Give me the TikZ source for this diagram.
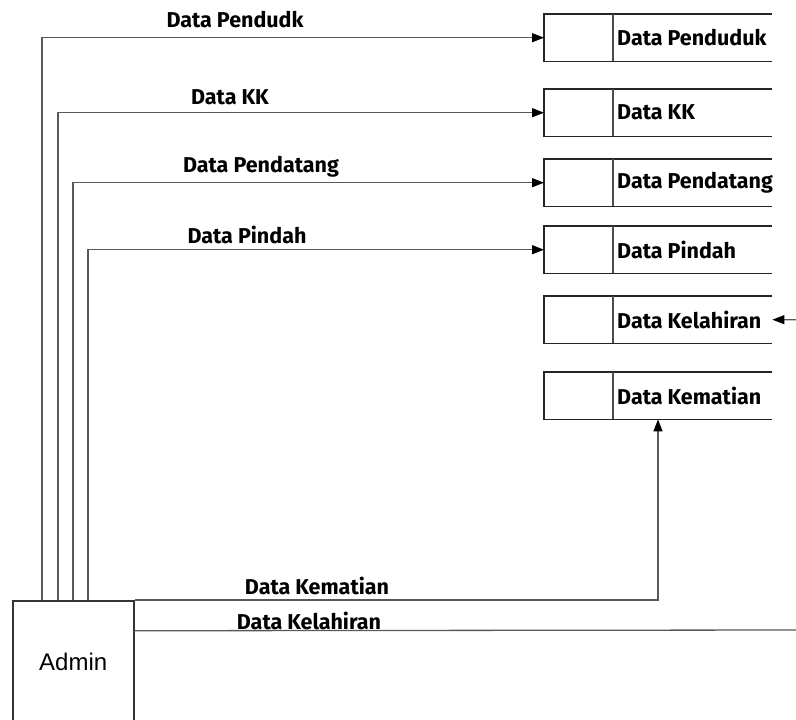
\documentclass[tikz,border=0pt]{standalone}
\usepackage{fontspec}
\setmainfont{Liberation Sans}
\newfontfamily\flowfont{Fira Sans}
\usetikzlibrary{positioning,arrows.meta}

\tikzset{
  lbl/.style={font=\flowfont\bfseries\fontsize{21.5}{25}\selectfont, inner sep=0pt},
  store/.style={minimum width=228pt, minimum height=47pt, anchor=north west, inner sep=0pt},
  flow/.style={line width=1.3pt, draw=black!65, -{Triangle[length=12pt,width=9pt,fill=black,color=black]}},
}

\begin{document}
\begin{tikzpicture}[x=1pt,y=-1pt]
	\useasboundingbox (0,0) rectangle (796,720);

	% entitas
	\node[draw, line width=1.5pt, draw=black!80, minimum width=121pt, minimum height=122pt,
		anchor=north west, inner sep=0pt, font=\fontsize{24}{28}\selectfont] (admin) at (12,600) {Admin};

	% data store
	\foreach \name/\ytop/\txt in {penduduk/14/Data Penduduk, kk/89/Data KK,
		pendatang/159/Data Pendatang, pindah/226/Data Pindah,
		kelahiran/296/Data Kelahiran, kematian/372/Data Kematian}{
		\node[store] (\name) at (544,\ytop) {};
		\draw[line width=1.5pt, black!85] (\name.north east) -- (\name.north west)
			-- (\name.south west) -- (\name.south east);
		\draw[line width=1.2pt, black!70] ([xshift=69pt]\name.north west) -- ([xshift=69pt]\name.south west);
		\node[lbl, anchor=west] (\name-t) at ([xshift=73pt]\name.west) {\txt};
	}

	% alur data
	\draw[flow] ([xshift=30pt]admin.north west) |- (penduduk.west);
	\draw[flow] ([xshift=46pt]admin.north west) |- (kk.west);
	\draw[flow] ([xshift=61pt]admin.north west) |- (pendatang.west);
	\draw[flow] ([xshift=76pt]admin.north west) |- (pindah.west);
	\draw[flow] (admin.north east) -| ([xshift=114pt]kematian.south west);
	\coordinate (kelright) at (799,630);
	\draw[flow] ([yshift=31pt]admin.east) -- (kelright) |- (kelahiran.east);

	% label alur
	\node[lbl] (l-penduduk) at (235,20) {Data Pendudk};
	\node[lbl] (l-kk) at (230,97) {Data KK};
	\node[lbl] (l-pendatang) at (261,167) {Data Pendatang};
	\node[lbl] (l-pindah) at (247,235) {Data Pindah};
	\node[lbl] (l-kematian) at (317,586) {Data Kematian};
	\node[lbl] (l-kelahiran) at (309,621) {Data Kelahiran};
\end{tikzpicture}
\end{document}
